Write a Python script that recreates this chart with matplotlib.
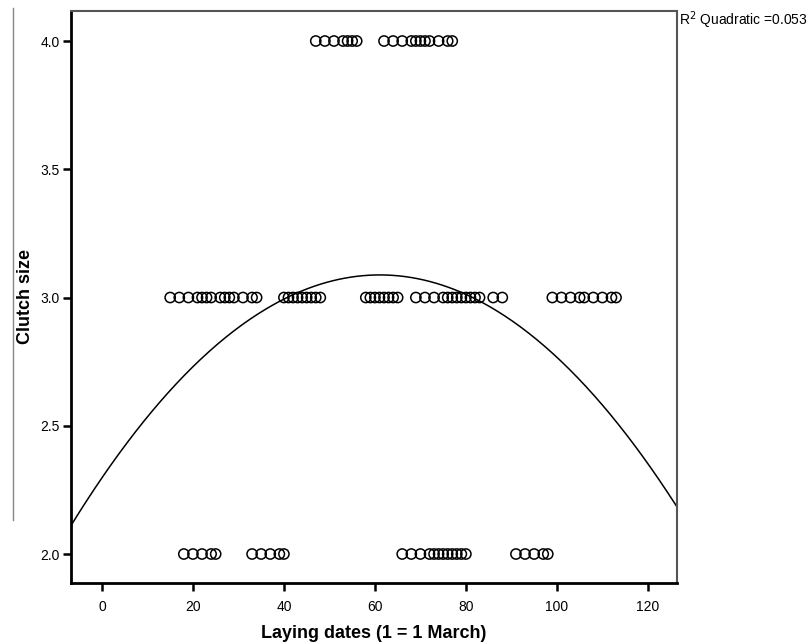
import numpy as np
import matplotlib.pyplot as plt
from matplotlib.lines import Line2D

plt.rcParams['font.family'] = ['Liberation Sans', 'DejaVu Sans']

# laying dates (1 = 1 March) for each clutch size
dates_4 = [47, 49, 51, 53, 54, 55, 56,
           62, 64, 66, 68, 69, 70, 71, 72, 74, 76, 77]
dates_3 = [15, 17, 19, 21, 22, 23, 24, 26, 27, 28, 29, 31, 33, 34,
           40, 41, 42, 43, 44, 45, 46, 47, 48,
           58, 59, 60, 61, 62, 63, 64, 65,
           69, 71, 73,
           75, 76, 77, 78, 79, 80, 81, 82, 83,
           86, 88,
           99, 101, 103, 105, 106, 108, 110, 112, 113]
dates_2 = [18, 20, 22, 24, 25,
           33, 35, 37, 39, 40,
           66, 68, 70, 72, 73, 74, 75, 76, 77, 78, 79, 80,
           91, 93, 95, 97, 98]

# quadratic fit as drawn in the figure (x^2, x, const), R^2 = 0.053
fit_coef = [-0.000212, 0.0259, 2.297]

x = np.array(dates_4 + dates_3 + dates_2, dtype=float)
y = np.array([4.0]*len(dates_4) + [3.0]*len(dates_3) + [2.0]*len(dates_2))

fig = plt.figure(figsize=(8.09, 6.42), dpi=100)
ax = fig.add_axes([71/809, 1 - 583/642, (677-71)/809, (583-11)/642])

ax.scatter(x, y, s=54, facecolors='none', edgecolors='black', linewidths=1.1, zorder=3)

xmin, xmax = -6.8, 126.4
xl = np.linspace(xmin, xmax, 300)
ax.plot(xl, np.polyval(fit_coef, xl), color='black', lw=1.1)

ax.set_xlim(xmin, xmax)
ax.set_ylim(1.887, 4.117)
ax.set_xticks([0, 20, 40, 60, 80, 100, 120])
ax.set_yticks([2.0, 2.5, 3.0, 3.5, 4.0])
ax.set_yticklabels(['2.0', '2.5', '3.0', '3.5', '4.0'])
ax.tick_params(direction='out', length=6, width=1.8, labelsize=10, colors='black')
ax.tick_params(axis='x', pad=6)
ax.tick_params(axis='y', pad=2)

for side in ['left', 'bottom']:
    ax.spines[side].set_linewidth(2)
    ax.spines[side].set_color('black')
for side in ['top', 'right']:
    ax.spines[side].set_linewidth(1.5)
    ax.spines[side].set_color('#555555')

ax.set_xlabel('Laying dates (1 = 1 March)', fontsize=13, fontweight='bold', labelpad=8)
ax.set_ylabel('Clutch size', fontsize=13, fontweight='bold', labelpad=5)

fig.text(679/809, 1 - 9/642, 'R$^2$ Quadratic =0.053', fontsize=10, ha='left', va='top')

fig.add_artist(Line2D([13/809, 13/809], [1 - 8/642, 1 - 520/642], color='#888888', lw=1))

fig.savefig('out.png', dpi=100)
